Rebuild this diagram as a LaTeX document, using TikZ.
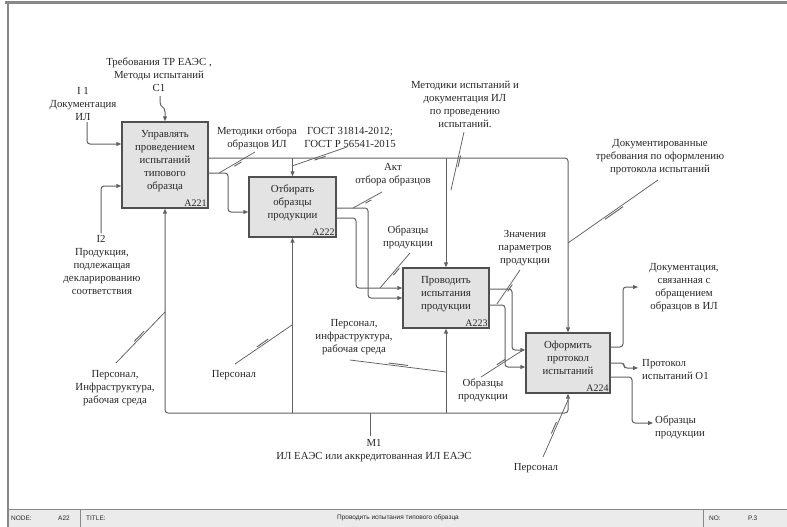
\documentclass[tikz,border=0pt]{standalone}
\usepackage{fontspec}
\setmainfont{Liberation Serif}
\newfontfamily\barfont{Liberation Sans}
\usetikzlibrary{arrows.meta,calc}
\definecolor{lc}{HTML}{606060}
\definecolor{bc}{HTML}{505050}
\definecolor{boxfill}{HTML}{E3E3E3}
\definecolor{tc}{HTML}{262626}
\definecolor{framec}{HTML}{888888}
\definecolor{barfill}{HTML}{EBEBEB}
\newcommand\squig[2]{%
  \draw[lead] (#1) -- (#2);
  \draw[lead, line width=0.9pt] ($(#1)!0.40!(#2)!1.8pt!90:(#2)$) -- ($(#1)!0.60!(#2)!1.8pt!90:(#2)$);
}
\begin{document}
\begin{tikzpicture}[x=1pt,y=-1pt,
  line/.style={draw=lc, line width=1pt, rounded corners=3pt},
  arr/.style={line, -{Triangle[length=5pt,width=4pt]}},
  lead/.style={draw=lc, line width=0.75pt},
  box/.style={draw=bc, line width=1.4pt, fill=boxfill, inner sep=0pt},
  lbl/.style={align=center, font=\fontsize{10.8}{13}\selectfont, text=tc, inner sep=0pt},
  boxid/.style={font=\fontsize{10}{10}\selectfont, text=tc, inner sep=0pt, anchor=south east},
  bar/.style={font=\barfont\fontsize{6.5}{7}\selectfont, text=tc, inner sep=0pt}
]
\useasboundingbox (0,0) rectangle (787,527);
% frame
\fill[barfill] (8,509) rectangle (787,527);
\draw[framec, line width=3pt] (5,3) -- (787,3);
\draw[framec, line width=2pt] (8,2) -- (8,527);
\draw[framec, line width=1pt] (8,509) -- (787,509);
\draw[framec, line width=1pt] (80,509) -- (80,527);
\draw[framec, line width=1pt] (703,509) -- (703,527);
\node[bar, anchor=west] (bnode) at (11,518) {NODE:};
\node[bar, anchor=west] (bnum) at (58,518) {A22};
\node[bar, anchor=west] (btitle) at (86,518) {TITLE:};
\node[bar] (bname) at (398,518) {Проводить испытания типового образца};
\node[bar, anchor=west] (bno) at (709,518) {NO:};
\node[bar, anchor=west] (bp) at (748,518) {P.3};

% boxes
\node[box, minimum width=86pt, minimum height=86pt] (A221) at (165,165) {};
\node[box, minimum width=87pt, minimum height=60pt] (A222) at (292.5,207) {};
\node[box, minimum width=86pt, minimum height=60pt] (A223) at (446,298) {};
\node[box, minimum width=84pt, minimum height=60pt] (A224) at (568,363) {};
\node[lbl, anchor=north] (t221) at ([yshift=-8.5pt]A221.north) {Управлять\\проведением\\испытаний\\типового\\образца};
\node[lbl, anchor=north] (t222) at ([yshift=-8pt]A222.north) {Отбирать\\образцы\\продукции};
\node[lbl, anchor=north] (t223) at ([yshift=-9pt]A223.north) {Проводить\\испытания\\продукции};
\node[lbl, anchor=north] (t224) at ([yshift=-8.5pt]A224.north) {Оформить\\протокол\\испытаний};
\node[boxid] (n221) at ([shift={(-2pt,2pt)}]A221.south east) {A221};
\node[boxid] (n222) at ([shift={(-2pt,2pt)}]A222.south east) {A222};
\node[boxid] (n223) at ([shift={(-2pt,2pt)}]A223.south east) {A223};
\node[boxid] (n224) at ([shift={(-2pt,2pt)}]A224.south east) {A224};

% inputs / controls of A221
\node[lbl] (lc1) at (159,75) {Требования ТР ЕАЭС ,\\Методы испытаний\\C1};
\coordinate (c1s) at (160,96);
\draw[arr, rounded corners=0pt] (c1s) -- (160,102) .. controls (160,108) and (165,106) .. (165,112) -- (A221.north);
\node[lbl] (li1) at (83,104) {I 1\\Документация\\ИЛ};
\coordinate (i1s) at (87,122);
\draw[arr] (i1s) |- (A221.west |- 0,144);
\node[lbl] (li2n) at (101,239) {I2};
\node[lbl] (li2) at (102,272) {Продукция,\\подлежащая\\декларированию\\соответствия};
\coordinate (i2s) at (101,233);
\draw[arr] (i2s) |- (A221.west |- 0,186);

% control bus
\draw[arr] (A221.east |- 0,158) -| (A224.north);
\draw[arr] (A222.north |- 0,158) -- (A222.north);
\draw[arr] (A223.north |- 0,158) -- (A223.north);

% A221 -> A222
\draw[arr] (A221.east |- 0,173) -- (228,173) |- (A222.west |- 0,212);
% A222 -> A223
\draw[arr] (A222.east |- 0,208) -- (368,208) |- (A223.west |- 0,298);
\draw[arr] (A222.east |- 0,218) -- (356,218) |- (A223.west |- 0,288);
% A223 -> A224
\draw[arr] (A223.east |- 0,289) -- (512,289) |- (A224.west |- 0,350);
\draw[arr] (A223.east |- 0,305) -- (505,305) |- (A224.west |- 0,367);
% A224 outputs
\coordinate (odoc) at (638,287);
\coordinate (oprot) at (638,368);
\coordinate (oobr) at (653,423);
\draw[arr] (A224.east |- 0,347) -- (623,347) |- (odoc);
\draw[arr] (A224.east |- 0,363) -- (624,363) |- (oprot);
\draw[arr] (A224.east |- 0,377) -- (632,377) |- (oobr);

% mechanism bus
\coordinate (m1) at (370,436);
\coordinate (mbus) at (370,413);
\draw[line] (m1) -- (mbus);
\draw[arr] (mbus) -| (A221.south);
\draw[arr] (mbus) -| (A224.south);
\draw[arr] (A222.south |- mbus) -- (A222.south);
\draw[arr] (A223.south |- mbus) -- (A223.south);
\node[lbl] (lm1) at (374,450.5) {M1\\ИЛ ЕАЭС или аккредитованная ИЛ ЕАЭС};

% labels with leaders
\node[lbl] (lmo) at (257,138) {Методики отбора\\образцов ИЛ};
\coordinate (a1) at (255,152); \coordinate (b1) at (219,173);
\squig{a1}{b1}
\node[lbl] (lgost) at (350,137.5) {ГОСТ 31814-2012;\\ГОСТ Р 56541-2015};
\coordinate (a2) at (347,147); \coordinate (b2) at (292,166);
\squig{a2}{b2}
\node[lbl] (lakt) at (393,174.5) {Акт\\отбора образцов};
\coordinate (a3) at (382,192); \coordinate (b3) at (353,208);
\squig{a3}{b3}
\node[lbl] (lmi) at (465,104) {Методики испытаний и\\документация ИЛ\\по проведению\\испытаний.};
\coordinate (a4) at (464,132); \coordinate (b4) at (451,190);
\squig{a4}{b4}
\node[lbl] (ldt) at (660,157.5) {Документированные\\требования по оформлению\\протокола испытаний};
\coordinate (a5) at (658,180); \coordinate (b5) at (568,243);
\squig{a5}{b5}
\node[lbl] (lob1) at (408,237) {Образцы\\продукции};
\coordinate (a6) at (410,253); \coordinate (b6) at (380,288);
\squig{a6}{b6}
\node[lbl] (lzn) at (525,248) {Значения\\параметров\\продукции};
\coordinate (a7) at (520,270); \coordinate (b7) at (497,304);
\squig{a7}{b7}
\node[lbl] (lpir) at (354,337) {Персонал,\\инфраструктура,\\рабочая среда};
\coordinate (a8) at (350,360); \coordinate (b8) at (446,372);
\squig{a8}{b8}
\node[lbl] (lob2) at (483,390) {Образцы\\продукции};
\coordinate (a9) at (481,377); \coordinate (b9) at (523,350);
\squig{a9}{b9}
\node[lbl] (ldoc) at (684,288) {Документация,\\связанная с\\обращением\\образцов в ИЛ};
\node[lbl, align=left, anchor=west] (lprot) at (642,369.5) {Протокол\\испытаний O1};
\node[lbl, align=left, anchor=west] (lob3) at (655,427) {Образцы\\продукции};
\node[lbl] (lpi1) at (115,388) {Персонал,\\Инфраструктура,\\рабочая среда};
\coordinate (a10) at (116,363); \coordinate (b10) at (165,312);
\squig{a10}{b10}
\node[lbl] (lp2) at (234,375) {Персонал};
\coordinate (a11) at (235,364); \coordinate (b11) at (292,325);
\squig{a11}{b11}
\node[lbl] (lp4) at (536,468) {Персонал};
\coordinate (a12) at (543,457); \coordinate (b12) at (568,400);
\squig{a12}{b12}
\end{tikzpicture}
\end{document}
